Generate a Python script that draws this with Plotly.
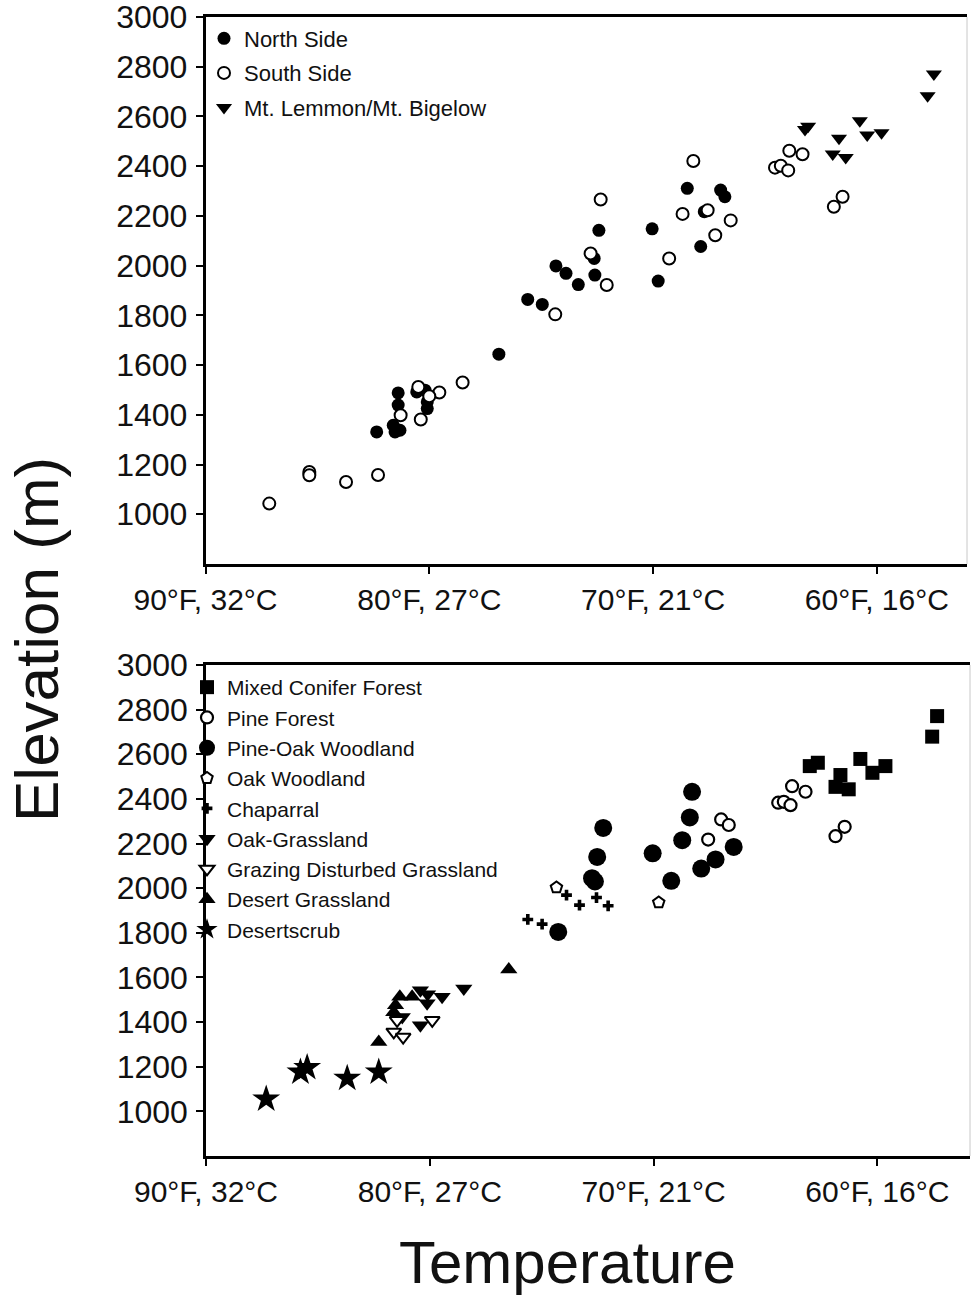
import plotly.graph_objects as go

# ---------------- Top panel data (Temperature °F, Elevation m) ----------------
north_temp = [68.47, 66.98, 66.79, 67.71, 70.04, 72.42, 67.87, 72.63, 74.34, 73.89, 73.34, 72.6, 69.77,
              75.6, 74.95, 76.89, 80.56, 80.19, 80.09, 80.09, 81.39, 81.39, 81.61, 81.31, 81.53, 82.35]
north_elev = [2311, 2304, 2277, 2217, 2148, 2142, 2077, 2029, 1999, 1969, 1924, 1962, 1938,
              1864, 1844, 1644, 1492, 1499, 1452, 1425, 1488, 1439, 1358, 1338, 1331, 1331]

south_temp = [63.91, 63.32, 64.55, 64.29, 63.96, 61.53, 61.92, 68.2, 72.34, 68.68, 67.56, 66.53, 67.22, 69.28,
              72.79, 72.07, 74.37, 78.51, 79.55, 80.0, 80.49, 80.38, 81.28, 82.29, 83.72, 85.36, 85.36, 87.15]
south_elev = [2462, 2448, 2394, 2402, 2383, 2277, 2237, 2421, 2266, 2208, 2223, 2182, 2122, 2029,
              2049, 1922, 1804, 1530, 1490, 1475, 1512, 1381, 1398, 1158, 1130, 1170, 1157, 1043]

lemmon_temp = [57.45, 57.73, 63.07, 63.21, 60.76, 60.43, 59.79, 61.69, 61.97, 61.39]
lemmon_elev = [2771, 2683, 2561, 2548, 2583, 2525, 2534, 2512, 2449, 2435]

# ---------------- Bottom panel data ----------------
conifer_temp = [57.33, 57.55, 63.02, 62.66, 60.76, 60.22, 59.64, 61.65, 61.87, 61.28]
conifer_elev = [2771, 2679, 2547, 2562, 2579, 2517, 2547, 2507, 2454, 2443]

pine_temp = [63.81, 63.21, 64.43, 64.18, 63.88, 61.46, 61.87, 66.98, 66.64, 67.56]
pine_elev = [2457, 2432, 2383, 2387, 2372, 2275, 2233, 2308, 2283, 2218]

pineoak_temp = [68.28, 68.38, 68.72, 66.42, 67.23, 67.87, 70.04, 69.21, 72.25, 72.52, 72.75, 72.62, 74.26]
pineoak_elev = [2432, 2317, 2215, 2185, 2129, 2088, 2156, 2033, 2270, 2140, 2045, 2030, 1804]

oakwood_temp = [69.77, 74.34]
oakwood_elev = [1936, 2003]

chaparral_temp = [73.89, 73.31, 72.55, 72.03, 75.62, 74.98]
chaparral_elev = [1969, 1924, 1958, 1921, 1860, 1839]

oakgrass_temp = [78.48, 79.45, 80.42, 80.1, 80.12, 80.42, 81.23]
oakgrass_elev = [1550, 1513, 1543, 1525, 1484, 1386, 1423]

grazing_temp = [79.89, 81.61, 81.19, 81.46]
grazing_elev = [1408, 1356, 1333, 1408]

desertgrass_temp = [76.47, 82.28, 81.34, 80.79, 81.53, 81.61]
desertgrass_elev = [1636, 1311, 1513, 1513, 1475, 1444]

desertscrub_temp = [87.31, 85.78, 85.48, 83.69, 82.28]
desertscrub_elev = [1055, 1176, 1196, 1148, 1176]

# ---------------- Axis labels ----------------
x_tickvals = [90, 80, 70, 60]
x_ticktext = ["90°F, 32°C", "80°F, 27°C", "70°F, 21°C", "60°F, 16°C"]
y_tickvals = [1000, 1200, 1400, 1600, 1800, 2000, 2200, 2400, 2600, 2800, 3000]

FONT = "Liberation Sans, Arial, sans-serif"
INK = "#111111"
W, H = 973, 1296

fig = go.Figure()

def add(x, y, name, symbol, size, fill, xa, ya, leg, lw=0):
    fig.add_trace(go.Scatter(
        x=x, y=y, mode="markers", name=name, legendgroup=name,
        marker=dict(symbol=symbol, size=size, color=fill,
                    line=dict(color="black", width=lw)),
        xaxis=xa, yaxis=ya, legend=leg, cliponaxis=False))

# top panel
add(north_temp, north_elev, "North Side", "circle", 13, "black", "x", "y", "legend")
add(south_temp, south_elev, "South Side", "circle", 12, "white", "x", "y", "legend", 2)
add(lemmon_temp, lemmon_elev, "Mt. Lemmon/Mt. Bigelow", "triangle-down", 14, "black", "x", "y", "legend")

# bottom panel
add(conifer_temp, conifer_elev, "Mixed Conifer Forest", "square", 14, "black", "x2", "y2", "legend2")
add(pine_temp, pine_elev, "Pine Forest", "circle", 12, "white", "x2", "y2", "legend2", 2.2)
add(pineoak_temp, pineoak_elev, "Pine-Oak Woodland", "circle", 18, "black", "x2", "y2", "legend2")
add(oakwood_temp, oakwood_elev, "Oak Woodland", "pentagon", 12, "white", "x2", "y2", "legend2", 2)
add(chaparral_temp, chaparral_elev, "Chaparral", "cross", 9, "black", "x2", "y2", "legend2")
add(oakgrass_temp, oakgrass_elev, "Oak-Grassland", "triangle-down", 15, "black", "x2", "y2", "legend2")
add(grazing_temp, grazing_elev, "Grazing Disturbed Grassland", "triangle-down", 13, "white", "x2", "y2", "legend2", 2)
add(desertgrass_temp, desertgrass_elev, "Desert Grassland", "triangle-up", 15, "black", "x2", "y2", "legend2")
add(desertscrub_temp, desertscrub_elev, "Desertscrub", "star", 21, "black", "x2", "y2", "legend2")

def px_x(p):
    return p / W

def px_y(p):
    return 1 - p / H

xcommon = dict(tickmode="array", tickvals=x_tickvals, ticktext=x_ticktext,
               showline=True, linecolor="black", linewidth=2.5, mirror=True,
               ticks="outside", ticklen=7, tickwidth=2, tickcolor="black",
               showgrid=False, zeroline=False, automargin=False,
               ticklabeloverflow="allow",
               tickfont=dict(family=FONT, size=30, color=INK), ticklabelstandoff=0)
ycommon = dict(tickmode="array", tickvals=y_tickvals,
               showline=True, linecolor="black", linewidth=2.5,
               ticks="outside", ticklen=7, tickwidth=2, tickcolor="black",
               showgrid=False, zeroline=False, automargin=False,
               ticklabeloverflow="allow",
               tickfont=dict(family=FONT, size=32, color=INK), ticklabelstandoff=2)

fig.update_layout(
    width=W, height=H,
    margin=dict(l=0, r=0, t=0, b=0, pad=0, autoexpand=False),
    paper_bgcolor="white", plot_bgcolor="white",
    showlegend=True,
    xaxis=dict(domain=[px_x(205.5), px_x(967)], range=[90, 55.97], anchor="y", **xcommon),
    yaxis=dict(domain=[px_y(564), px_y(17)], range=[800, 3000], anchor="x", **ycommon),
    xaxis2=dict(domain=[px_x(206), px_x(970)], range=[90, 55.86], anchor="y2", **xcommon),
    yaxis2=dict(domain=[px_y(1156), px_y(665)], range=[800, 3000], anchor="x2", **ycommon),
    legend=dict(x=px_x(204), y=px_y(17.5), xanchor="left", yanchor="top",
                bgcolor="rgba(0,0,0,0)", borderwidth=0, traceorder="grouped",
                tracegroupgap=3, font=dict(family=FONT, size=22, color=INK)),
    legend2=dict(x=px_x(187), y=px_y(667), xanchor="left", yanchor="top",
                 bgcolor="rgba(0,0,0,0)", borderwidth=0, traceorder="grouped",
                 tracegroupgap=0, font=dict(family=FONT, size=21, color=INK)),
    shapes=[
        dict(type="line", xref="x domain", yref="y domain", x0=1, x1=1, y0=0, y1=1,
             line=dict(color="#c8c8c8", width=1)),
        dict(type="line", xref="x2 domain", yref="y2 domain", x0=1, x1=1, y0=0, y1=1,
             line=dict(color="#c8c8c8", width=1)),
    ],
    annotations=[
        dict(text="Elevation (m)", x=px_x(36), y=px_y(640), xref="paper", yref="paper",
             textangle=-90, showarrow=False, xanchor="center", yanchor="middle",
             font=dict(family=FONT, size=62, color=INK)),
        dict(text="Temperature", x=px_x(567), y=px_y(1262), xref="paper", yref="paper",
             showarrow=False, xanchor="center", yanchor="middle",
             font=dict(family=FONT, size=60, color=INK)),
    ],
)

fig.write_html("out.html", config={"displayModeBar": False},
               post_script="document.body.style.margin='0px';")
